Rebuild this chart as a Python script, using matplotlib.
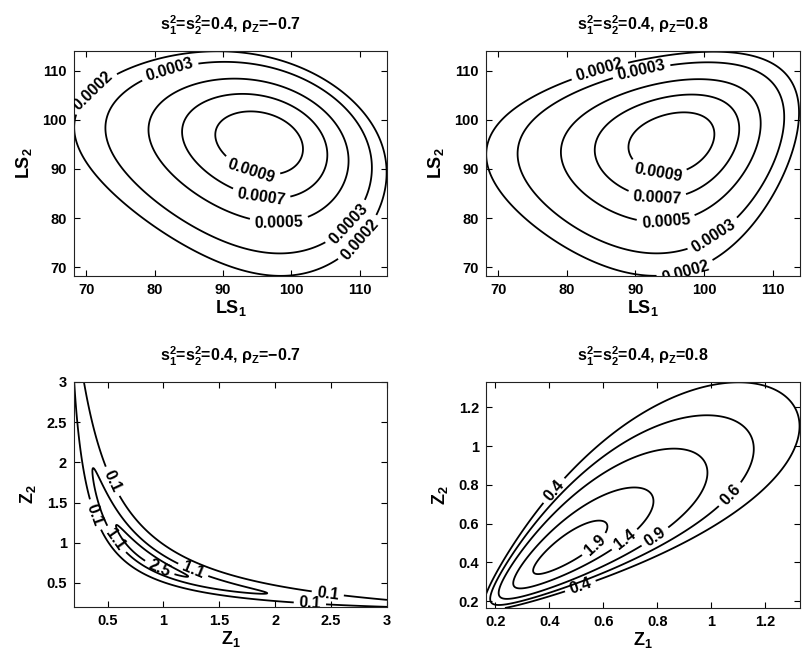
import numpy as np
import matplotlib
matplotlib.use("Agg")
import matplotlib.pyplot as plt
from matplotlib.ticker import FuncFormatter
from numpy.polynomial.hermite_e import hermegauss

plt.rcParams['font.family'] = ['Liberation Sans', 'DejaVu Sans']
plt.rcParams['font.weight'] = 'bold'
plt.rcParams['axes.titleweight'] = 'bold'
plt.rcParams['axes.labelweight'] = 'bold'
plt.rcParams['mathtext.fontset'] = 'custom'
plt.rcParams['mathtext.rm'] = 'Liberation Sans:bold'
plt.rcParams['mathtext.it'] = 'Liberation Sans:bold'
plt.rcParams['mathtext.bf'] = 'Liberation Sans:bold'
plt.rcParams['mathtext.default'] = 'rm'

# ---- model parameters read from the titles ----
s2 = [0.4, 0.4]                 # frailty variances s1^2 = s2^2
rho_values = [-0.7, 0.8]        # correlation of Z
# Gompertz lifespan model (hazard Z*a*exp(b*t)), modal age M
gompertz_b = 0.1
gompertz_M = 95.0

# ---- contour levels ----
levels_ls = [0.0002, 0.0003, 0.0005, 0.0007, 0.0009]
levels_z_neg = [0.1, 1.1, 2.5]
levels_z_pos = [0.4, 0.6, 0.9, 1.4, 1.9]

# ---- axis ranges and ticks ----
ls_range = [68.2, 114.0]
z_range_neg = [0.2, 3.0]
z_range_pos = [0.165, 1.33]
ls_ticks = [70, 80, 90, 100, 110]
z_ticks_neg = [0.5, 1, 1.5, 2, 2.5, 3]
z_ticks_pos = [0.2, 0.4, 0.6, 0.8, 1, 1.2]

# ---- label positions (data coords) ----
lab_ls_neg = [(71.8, 104.6), (82.5, 108.7), (94.5, 91.1), (95.7, 85.3),
              (98.2, 80.3), (107.7, 79.6), (109.6, 76.2)]
lab_ls_pos = [(85.0, 109.0), (90.8, 110.4), (93.5, 91.1), (93.2, 85.3),
              (94.4, 80.3), (101.2, 76.9), (97.1, 70.1)]
lab_z_neg = [(0.554, 1.77), (0.39, 1.35), (0.554, 1.02), (0.97, 0.70),
             (1.26, 0.64), (2.47, 0.365), (2.31, 0.24)]
lab_z_pos = [(0.42, 0.767), (0.513, 0.286), (0.556, 0.509), (0.674, 0.527),
             (0.791, 0.535), (1.064, 0.759)]


def lognormal_params(var, rhoZ):
    sig2 = np.log(1 + var)
    mu = -sig2 / 2
    r = np.log(1 + rhoZ * var) / sig2
    return mu, sig2, r


def z_density(z1, z2, var, rhoZ):
    mu, sig2, r = lognormal_params(var, rhoZ)
    y1 = np.log(z1) - mu
    y2 = np.log(z2) - mu
    q = (y1**2 - 2 * r * y1 * y2 + y2**2) / (sig2 * (1 - r**2))
    return np.exp(-q / 2) / (2 * np.pi * sig2 * np.sqrt(1 - r**2) * z1 * z2)


def gompertz_pdf(t, z, a, b):
    return z * a * np.exp(b * t) * np.exp(-z * a / b * (np.exp(b * t) - 1))


def ls_density(t1, t2, var, rhoZ, b, M, n=80):
    a = b * np.exp(-b * M)
    mu, sig2, r = lognormal_params(var, rhoZ)
    x, w = hermegauss(n)
    w = w / np.sqrt(2 * np.pi)
    sig = np.sqrt(sig2)
    z1 = np.exp(mu + sig * x)
    z2 = np.exp(mu + sig * (r * x[:, None] + np.sqrt(1 - r**2) * x[None, :]))
    A = w[:, None] * gompertz_pdf(t1[None, :], z1[:, None], a, b)
    F2 = gompertz_pdf(t2[None, None, :], z2[:, :, None], a, b)
    G = np.einsum('j,ijk->ik', w, F2)
    return (A.T @ G).T


fig = plt.figure(figsize=(8.08, 6.63), dpi=100)
W, H = 808, 663


def make_ax(l, r, t, b):
    return fig.add_axes([l / W, 1 - b / H, (r - l) / W, (b - t) / H])


ax_tl = make_ax(74, 387, 51, 276)
ax_tr = make_ax(486, 800, 51, 276)
ax_bl = make_ax(74, 387, 382, 607)
ax_br = make_ax(486, 800, 382, 608)

fmt = FuncFormatter(lambda v, p: f'{v:g}')


def title_for(var, rho):
    rho_txt = f'{rho:g}'.replace('-', '\u2212')
    return (r's$_1^2$=s$_2^2$=' + f'{var:g}' + ', \u03c1$_Z$=' + rho_txt)


def style(ax, xr, yr, ticks_x, ticks_y, xl, yl, ttl):
    ax.set_xlim(xr)
    ax.set_ylim(yr)
    ax.set_xticks(ticks_x)
    ax.set_yticks(ticks_y)
    ax.xaxis.set_major_formatter(fmt)
    ax.yaxis.set_major_formatter(fmt)
    ax.tick_params(direction='in', top=True, right=True, length=4,
                   width=0.8, labelsize=10.5, pad=5)
    for sp in ax.spines.values():
        sp.set_linewidth(0.8)
        sp.set_color('#222222')
    ax.set_xlabel(xl, fontsize=13, fontweight='bold', labelpad=1)
    ax.set_ylabel(yl, fontsize=13, fontweight='bold', labelpad=6)
    ax.set_title(ttl, fontsize=11.5, fontweight='bold', pad=15)


def draw(ax, X, Y, D, levels, labpos):
    cs = ax.contour(X, Y, D, levels=levels, colors='k', linewidths=1.3)
    ax.clabel(cs, levels, manual=labpos, inline=True, fmt='%g',
              fontsize=11.5, inline_spacing=5)


# top row: lifespans
t = np.linspace(ls_range[0], ls_range[1], 300)
T1, T2 = np.meshgrid(t, t)
for ax, rho, lab in [(ax_tl, rho_values[0], lab_ls_neg),
                     (ax_tr, rho_values[1], lab_ls_pos)]:
    D = ls_density(t, t, s2[0], rho, gompertz_b, gompertz_M)
    draw(ax, T1, T2, D, levels_ls, lab)
    style(ax, ls_range, ls_range, ls_ticks, ls_ticks,
          r'LS$_1$', r'LS$_2$', title_for(s2[0], rho))

# bottom row: frailties
for ax, rho, rng, levels, ticks, lab in [
        (ax_bl, rho_values[0], z_range_neg, levels_z_neg, z_ticks_neg, lab_z_neg),
        (ax_br, rho_values[1], z_range_pos, levels_z_pos, z_ticks_pos, lab_z_pos)]:
    z = np.linspace(rng[0], rng[1], 700)
    Z1, Z2 = np.meshgrid(z, z)
    D = z_density(Z1, Z2, s2[0], rho)
    draw(ax, Z1, Z2, D, levels, lab)
    style(ax, rng, rng, ticks, ticks,
          r'Z$_1$', r'Z$_2$', title_for(s2[0], rho))

fig.savefig("out.png", dpi=100)
